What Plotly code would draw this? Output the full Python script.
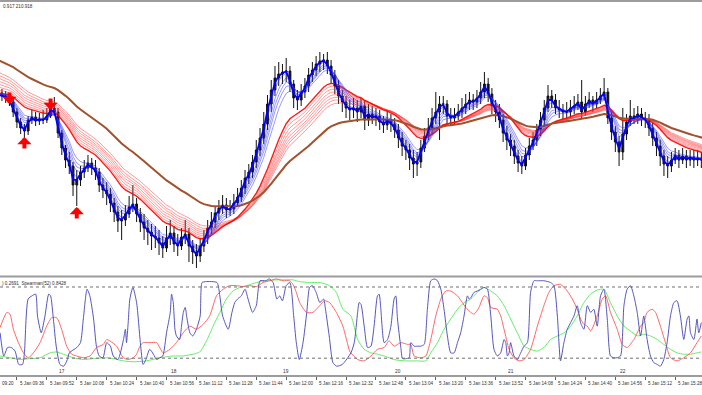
import plotly.graph_objects as go

W, H = 702, 395

# ---------------- price data (2-minute bars, minutes after 5 Jan 09:20) ----------------
bar_start = 6
bar_step = 2
first_open = 205
close = [207,204,203,198,188,178,172,169,180,183,
         179,181,180,184,192,188,167,152,140,134,
         115,120,128,132,137,132,128,115,110,106,
         97,88,79,80,86,93,96,86,78,72,
         68,64,62,57,52,62,67,56,54,63,
         66,54,48,44,54,62,72,78,87,92,
         95,90,91,97,103,112,122,128,138,150,
         162,176,196,210,222,226,228,229,216,202,
         200,208,214,225,230,236,239,240,234,225,
         214,204,198,192,190,192,188,194,180,186,
         182,184,178,175,180,176,170,162,154,150,
         142,136,138,152,164,172,182,188,196,196,
         184,182,184,188,192,196,200,198,202,208,
         216,206,194,188,180,167,160,154,144,137,
         134,145,154,160,170,180,192,204,200,192,
         190,188,188,192,194,198,188,196,200,196,
         200,204,208,182,168,158,148,166,178,184,
         182,186,182,180,172,162,154,144,136,134,
         140,145,140,144,140,143,140,142,140,142]
high = [212,211,209,206,201,192,182,176,184,190,
        188,187,190,192,200,203,192,170,155,148,
        138,130,134,140,145,142,140,132,122,118,
        112,102,94,90,95,104,115,102,92,86,
        80,76,74,70,64,74,80,74,66,72,
        80,72,60,56,62,70,80,88,94,100,
        105,102,100,106,112,120,130,136,145,160,
        172,188,205,220,234,238,236,242,234,220,
        210,216,222,232,238,244,248,246,248,240,
        230,220,210,204,200,202,200,202,200,196,
        194,192,190,184,190,186,182,176,168,160,
        156,150,148,160,172,182,192,208,204,204,
        200,192,192,196,202,206,208,206,210,218,
        228,222,212,200,196,186,174,166,160,150,
        144,152,162,168,176,188,200,215,210,206,
        200,196,198,200,204,206,220,204,208,204,
        208,212,222,212,188,174,164,192,186,200,
        192,194,192,188,186,178,168,160,150,144,
        148,152,150,152,150,150,150,150,148,150]
low = [200,199,197,194,183,172,166,162,165,176,
       174,175,176,177,182,184,162,145,132,126,
       104,94,114,122,128,125,120,108,102,95,
       88,78,68,60,74,82,88,78,68,60,
       55,50,52,45,42,48,55,48,44,50,
       56,38,36,32,38,48,56,66,72,80,
       86,82,84,86,94,98,106,116,122,132,
       144,156,170,188,204,214,216,218,208,192,
       190,194,202,208,218,224,228,230,226,216,
       206,196,188,182,180,182,178,182,170,174,
       176,174,170,167,170,168,162,152,144,140,
       130,122,124,132,148,160,166,176,160,186,
       176,174,176,180,182,186,190,190,192,196,
       202,198,186,178,172,158,150,144,136,128,
       126,130,140,150,154,164,174,188,192,186,
       182,180,178,182,186,190,182,184,192,188,
       192,196,200,176,160,148,134,140,160,174,
       176,176,174,172,164,154,144,134,124,122,
       128,136,132,136,132,134,132,134,132,134]

# moving averages: periods in 1-minute bars, values at the first visible bar
blue_periods = [3, 5, 8, 10, 12, 15]
blue_seeds = [205, 205, 206, 206, 207, 207]
red_periods = [30, 33, 36, 39, 42, 45, 48, 52]
red_seeds = [207, 210, 213, 216, 219, 222, 225, 228]
brown_period = 85
brown_seed = 240

# signal arrows
sell_time = [12, 34]
sell_price = [196, 190]
buy_time = [20, 48]
buy_price = [163, 93]

# ---------------- Spearman indicator ----------------
blue_t = [7,9,11,13,15,17,19,20,22,24,26,27,29,31,33,34,35.5,37,39,41,43,44,48,50,51.5,53.5,55,57,58.5,60,
          62,64,66,67.5,70,73,74,74.6,75.5,76.4,78,80,82,83.5,85,87,89,90.7,92.4,94,96,98,98.7,99.6,100.5,
          101.3,103,104,105,106,107,108.5,110,112,114,115,117,123,124.5,126,129,131,132.5,134,136,138,139.6,
          142,144,146,149,151,153,155,156.5,158,160,162,164,165.4,167,169,171,172.5,174,176,178,180,181,183,
          185,187,190,
          194.6,196.4,198.2,199,200,201.7,203.5,205.3,207,208.8,209.7,210.6,212.4,214.2,216,217.7,218.6,219.5,
          221.3,222.2,224,225.8,226.6,228.4,230.2,232,233.8,235.5,237.3,239.1,240.9,242.7,244.4,246.2,248,
          249.8,251.6,253.3,255.1,256.9,257.8,258.7,260.5,262.2,264,265.8,267.6,269.4,271.1,272.9,274.7,
          276.5,277.4,278.3,279.2,280,281.8,283.6,285.4,287.2,289,290.7,292.5,294.3,297.8,301.4,303.2,305,
          306.7,308.5,310.3,312.1,313.9,315.6,317.4,319.2,321,322.8,324.5,326.3,328.1,329.9,331.7,333.4,
          335.2,337,338.8,340.6,342.3,344.1,345.9,347.7,349.5,351.2,352.1,353,354.8,356.6,358.4,360.1,361.9,
          363.7,365.5,367.3,369,370.8,372.6,374.4,375.3,376.2,378,379.7,380.6,382]
blue_v = [-0.23,-0.75,-0.56,-0.56,-0.64,-0.94,-0.94,-0.68,0.53,0.60,0.64,0.15,-0.23,0.15,0.64,0.60,0.08,-0.53,
          -0.94,-0.98,-0.83,-0.68,-0.56,-0.45,0.08,0.75,0.60,0.08,-0.53,-0.75,-0.79,-0.45,-0.53,-0.75,-0.83,
          -0.38,-0.15,-0.45,0.0,0.53,0.79,0.45,-0.45,-0.94,-0.83,-0.60,-0.71,-0.83,-0.79,-0.75,-0.23,0.23,0.64,
          0.45,-0.15,-0.30,-0.38,-0.08,0.23,0.34,0.08,-0.23,-0.30,-0.15,0.15,0.90,0.92,0.90,0.60,0.15,-0.15,
          0.23,0.45,0.53,0.60,0.75,0.53,0.23,0.38,0.94,0.94,0.98,0.90,0.53,0.60,0.49,0.83,0.90,0.15,-0.45,
          -0.83,-0.45,0.23,0.79,0.83,0.68,0.45,0.53,0.30,-0.30,-0.90,-0.98,-0.94,
          -0.68,-0.45,0.23,0.45,0.41,-0.08,-0.56,-0.53,-0.08,0.60,0.64,0.30,-0.45,-0.38,-0.08,0.53,0.60,0.08,
          -0.56,-0.81,-0.81,-0.79,-0.45,-0.53,-0.53,-0.53,-0.49,0.30,0.94,0.98,0.94,0.75,0.30,-0.30,-0.68,
          -0.68,-0.45,-0.23,0.15,0.60,0.53,0.56,0.68,0.71,0.75,0.79,0.75,0.15,-0.60,-0.75,-0.68,-0.38,-0.45,
          -0.75,-0.68,-0.45,-0.75,-0.83,-0.68,-0.53,-0.45,0.68,0.94,0.94,0.94,0.90,0.83,0.15,-0.86,-0.45,
          -0.15,0.0,0.15,0.38,0.0,-0.15,0.38,0.23,0.30,-0.08,0.60,0.75,0.08,-0.75,-0.79,-0.79,-0.75,0.38,0.75,
          0.83,0.60,0.23,-0.30,0.15,-0.08,-0.38,-0.75,-0.90,-0.94,-0.98,-0.83,-0.45,0.15,0.45,0.49,0.15,-0.38,
          0.08,0.15,-0.23,-0.38,0.08,-0.23,0.0]
red_t = [7,8.8,10.6,12.3,14.1,16.8,19.5,22.1,24.8,28.4,31.9,34.6,37.3,39.9,42.6,45.3,47.9,51.5,55.1,58.6,
         62.2,64,65.7,69.3,72.9,75.5,78.2,80,81.8,83.5,87.1,90.7,94.2,97.8,101.3,104.9,108.5,112,115.6,119.1,
         122.7,126.3,129.8,133.4,136.9,140.5,144.1,147.6,151.2,154.7,158.3,161.9,163.6,165.4,167.2,170.8,
         174.3,177.9,180.5,183.2,186.8,190.3,193.9,
         194.6,198.2,201.7,205.3,208.8,212.4,215,217.7,221.3,224.9,226.6,228.4,232,234.7,237.3,240,242.7,
         245.3,248,251.6,254.2,256,258.7,260.5,263.1,265.8,267.6,269.4,272.9,274.7,276.5,279.2,281.8,284.5,
         287.2,290.7,294.3,297.8,300.5,303.2,306.7,310.3,313,315.6,317.4,319.2,321,322.8,326.3,329,330.8,
         333.4,337,339.7,342.3,345.9,349.5,351.2,353,355.7,357.5,360.1,362.8,365.5,369,372.6,376.2,379.7,382]
red_v = [-0.11,0.08,0.23,0.19,-0.15,-0.45,-0.68,-0.79,-0.68,-0.45,-0.08,0.11,0.11,-0.15,-0.53,-0.71,-0.75,
         -0.79,-0.75,-0.56,-0.49,-0.38,-0.41,-0.53,-0.79,-0.83,-0.79,-0.71,-0.53,-0.45,-0.45,-0.45,-0.68,-0.60,
         -0.45,-0.23,-0.08,-0.15,-0.04,0.15,0.60,0.75,0.83,0.83,0.81,0.83,0.81,0.90,0.94,0.98,0.94,0.94,0.86,
         0.68,0.45,0.23,0.23,0.38,0.49,0.45,0.23,-0.08,-0.64,
         -0.68,-0.83,-0.86,-0.75,-0.60,-0.56,-0.41,-0.53,-0.45,-0.49,-0.49,-0.75,-0.79,-0.75,-0.38,0.15,0.53,
         0.71,0.71,0.60,0.45,0.34,0.23,0.19,0.34,0.60,0.56,0.34,0.30,0.15,-0.15,-0.60,-0.79,-0.86,-0.83,-0.60,
         -0.08,0.38,0.68,0.83,0.86,0.71,0.53,0.30,0.08,-0.04,-0.08,-0.19,0.15,0.53,0.60,0.23,-0.15,-0.49,
         -0.56,-0.38,-0.08,0.0,0.23,0.30,0.23,-0.08,-0.45,-0.79,-0.86,-0.79,-0.68,-0.45,-0.30]
green_t = [7,12.3,17.7,23,28.4,33.7,37.3,40.8,46.2,51.5,56.8,64,67.5,72.9,78.2,85.3,92.4,99.6,104.9,110.2,
           113.8,117.4,120.9,124.5,128,131.6,135.2,138.7,144.1,149.4,154.7,158.3,163.6,167.2,172.5,177.9,
           183.2,186.8,190.3,
           194.6,198.2,201.7,205.3,208.8,212.4,217.7,223.1,230.2,234.7,237.3,240.9,244.4,248,251.6,255.1,
           258.7,262.2,265.8,269.4,272.9,276.5,280,283.6,287.2,290.7,294.3,297.8,301.4,305,308.5,312.1,315.6,
           319.2,322.8,326.3,329.9,333.4,337,340.6,344.1,347.7,351.2,354.8,358.4,361.9,365.5,369,372.6,376.2,
           379.7,382]
green_v = [-0.75,-0.79,-0.83,-0.81,-0.79,-0.68,-0.66,-0.71,-0.79,-0.83,-0.81,-0.79,-0.81,-0.86,-0.88,-0.86,
           -0.79,-0.75,-0.75,-0.71,-0.66,-0.41,-0.08,0.23,0.53,0.71,0.79,0.83,0.90,0.94,0.96,0.96,0.96,0.92,
           0.90,0.90,0.83,0.68,0.30,
           0.15,-0.38,-0.60,-0.68,-0.71,-0.75,-0.83,-0.86,-0.86,-0.86,-0.68,-0.45,-0.15,0.08,0.30,0.45,0.53,
           0.68,0.79,0.71,0.60,0.38,0.08,-0.23,-0.53,-0.60,-0.64,-0.56,-0.38,-0.30,-0.23,-0.08,0.15,0.45,0.64,
           0.73,0.75,0.45,0.15,-0.08,-0.19,-0.30,-0.26,-0.30,-0.38,-0.49,-0.60,-0.68,-0.71,-0.71,-0.68,-0.66]
levels = [0.8, -0.8]

# ---------------- axis labels ----------------
tick_times = [16,32,48,64,80,96,112,128,144,160,176,192,208,224,240,256,272,288,304,320,336,352,368]
tick_labels = ["5 Jan 09:36","5 Jan 09:52","5 Jan 10:08","5 Jan 10:24","5 Jan 10:40",
               "5 Jan 10:56","5 Jan 11:12","5 Jan 11:28","5 Jan 11:44","5 Jan 12:00","5 Jan 12:16",
               "5 Jan 12:32","5 Jan 12:48","5 Jan 13:04","5 Jan 13:20","5 Jan 13:36","5 Jan 13:52",
               "5 Jan 14:08","5 Jan 14:24","5 Jan 14:40","5 Jan 14:56","5 Jan 15:12","5 Jan 15:28"]
first_tick_label = "09:20"
hour_times = [40, 100, 160, 220, 280, 340]
hour_labels = ["17", "18", "19", "20", "21", "22"]
header_text = "0.917 210.918"
ind_text = ") 0.2691  Spearman(52) 0.8428"

# ---------------- derived series ----------------
n = len(close)
bar_t = [bar_start + bar_step * i for i in range(n)]
opens = [first_open] + close[:-1]


def ema(values, period, seed):
    a1 = 2.0 / (period + 1)
    a = 1 - (1 - a1) ** bar_step
    out = [seed]
    for v in values[1:]:
        out.append(out[-1] + a * (v - out[-1]))
    return out


def py(p):
    return (H - p) / H


FONT = "Liberation Sans, Arial, sans-serif"
X_RANGE = [6.95, 382.35]
TXT = "#303030"

fig = go.Figure()
fig.add_trace(go.Candlestick(
    x=bar_t, open=opens, high=high, low=low, close=close,
    increasing=dict(line=dict(color="#111111", width=1), fillcolor="#111111"),
    decreasing=dict(line=dict(color="#111111", width=1), fillcolor="#111111"),
    whiskerwidth=0, hoverinfo="skip", showlegend=False))

for p, s in zip(red_periods[::-1], red_seeds[::-1]):
    fast = (p == red_periods[0])
    fig.add_trace(go.Scatter(x=bar_t, y=ema(close, p, s), mode="lines", hoverinfo="skip",
                             line=dict(color="rgba(255,0,0,0.9)" if fast else "rgba(255,70,70,0.55)",
                                       width=1.4 if fast else 1), showlegend=False))
fig.add_trace(go.Scatter(x=bar_t, y=ema(close, brown_period, brown_seed), mode="lines", hoverinfo="skip",
                         line=dict(color="#a0522d", width=2), showlegend=False))
for p, s in zip(blue_periods[::-1], blue_seeds[::-1]):
    fast = (p == blue_periods[0])
    fig.add_trace(go.Scatter(x=bar_t, y=ema(close, p, s), mode="lines", hoverinfo="skip",
                             line=dict(color="#0000ff" if fast else "rgba(50,50,255,0.5)",
                                       width=1.8 if fast else 1), showlegend=False))

for t, v, col in [(green_t, green_v, "#66ee66"), (red_t, red_v, "#ff6666"), (blue_t, blue_v, "#5555c0")]:
    fig.add_trace(go.Scatter(x=t, y=v, xaxis="x2", yaxis="y2", mode="lines", hoverinfo="skip",
                             line=dict(color=col, width=1, shape="spline", smoothing=0.6), showlegend=False))

annotations = []
for t, p in zip(buy_time, buy_price):
    annotations.append(dict(x=t, y=p, xref="x", yref="y", text="", showarrow=True, ax=0, ay=13,
                            arrowhead=1, arrowsize=0.6, arrowwidth=4, arrowcolor="#ff0000"))
for t, p in zip(sell_time, sell_price):
    annotations.append(dict(x=t, y=p, xref="x", yref="y", text="", showarrow=True, ax=0, ay=-13,
                            arrowhead=1, arrowsize=0.6, arrowwidth=4, arrowcolor="#ff0000"))
for t, lab in zip(tick_times, tick_labels):
    annotations.append(dict(x=t, y=py(383), xref="x2", yref="paper", text=lab, showarrow=False,
                            xanchor="left", yanchor="middle", xshift=1, font=dict(size=4.6, color=TXT, family=FONT)))
annotations.append(dict(x=0, y=py(383), xref="paper", yref="paper", text=first_tick_label, showarrow=False,
                        xanchor="left", yanchor="middle", font=dict(size=4.6, color=TXT, family=FONT)))
for t, lab in zip(hour_times, hour_labels):
    annotations.append(dict(x=t, y=py(371.5), xref="x2", yref="paper", text=lab, showarrow=False,
                            xanchor="center", yanchor="middle", font=dict(size=4.8, color=TXT, family=FONT)))
annotations.append(dict(x=1 / W, y=py(7), xref="paper", yref="paper", text=header_text, showarrow=False,
                        xanchor="left", yanchor="middle", font=dict(size=4.6, color=TXT, family=FONT)))
annotations.append(dict(x=0, y=py(283), xref="paper", yref="paper", text=ind_text, showarrow=False,
                        xanchor="left", yanchor="middle", font=dict(size=4.6, color=TXT, family=FONT)))

shapes = []
for lv in levels:
    shapes.append(dict(type="line", xref="paper", yref="y2", x0=0, x1=1, y0=lv, y1=lv,
                       line=dict(color="#707070", width=1, dash="dot")))
for yy, wdt in [(1, 2), (276.5, 2), (376, 2)]:
    shapes.append(dict(type="line", xref="paper", yref="paper", x0=0, x1=1, y0=py(yy), y1=py(yy),
                       line=dict(color="#9c9c9c", width=wdt)))

fig.update_layout(
    width=W, height=H, margin=dict(l=0, r=0, t=0, b=0, autoexpand=False),
    paper_bgcolor="#ffffff", plot_bgcolor="#ffffff", showlegend=False,
    xaxis=dict(domain=[0, 1], range=X_RANGE, visible=False, anchor="y",
               rangeslider=dict(visible=False)),
    yaxis=dict(domain=[py(275), py(3)], range=[25, 297], visible=False),
    xaxis2=dict(domain=[0, 1], range=X_RANGE, matches="x", anchor="y2", showticklabels=False,
                showgrid=False, zeroline=False, showline=False, ticks="outside", ticklen=3,
                tickcolor="#606060", tickvals=tick_times),
    yaxis2=dict(domain=[py(376), py(278)], range=[-1.20, 1.002], visible=False),
    annotations=annotations, shapes=shapes,
)

fig.write_html("out.html", config={"staticPlot": True},
               post_script="document.body.style.margin='0';document.body.style.padding='0';"
                           "document.body.style.overflow='hidden';")
